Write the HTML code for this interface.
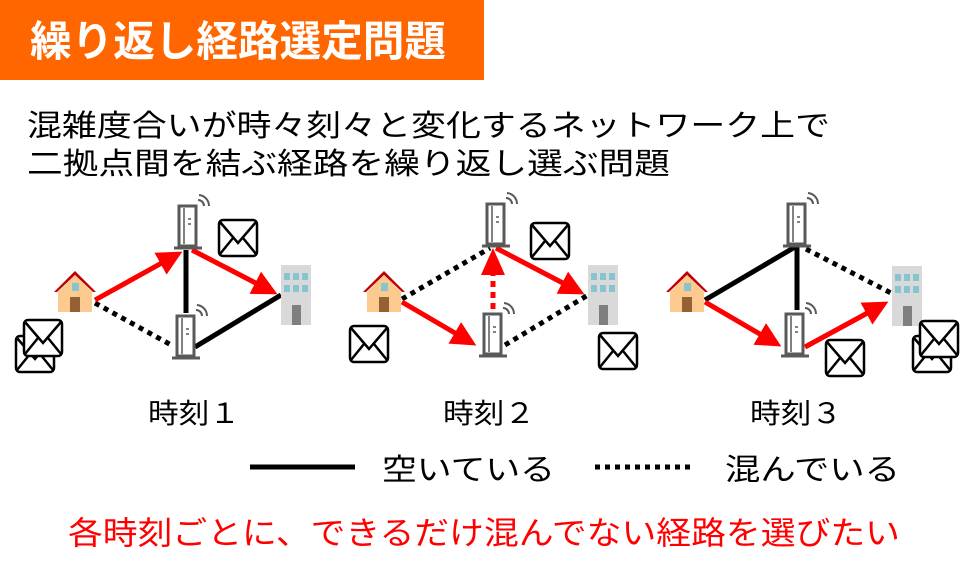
<!DOCTYPE html>
<html><head><meta charset="utf-8"><style>
html,body{margin:0;padding:0;background:#fff;}
svg{display:block;}
text{font-family:"Liberation Sans","Noto Sans CJK JP",sans-serif;}
</style></head><body>
<svg width="965" height="568" viewBox="0 0 965 568" xmlns="http://www.w3.org/2000/svg">
<defs>
  <marker id="ar" markerWidth="5" markerHeight="5" refX="4" refY="2.5" orient="auto" markerUnits="strokeWidth">
    <path d="M0,0 L5,2.5 L0,5 z" fill="#f00"/>
  </marker>
  <g id="house">
    <polygon points="0,22 21,1 42,22 39,22 21,5 3,22" fill="#c00000"/>
    <polygon points="4,22 21,5 38,22 38,42 4,42" fill="#fcc98f"/>
    <rect x="18" y="13" width="7" height="8" fill="#86c4d0"/>
    <rect x="16" y="27" width="10" height="15" fill="#946232"/>
  </g>
  <g id="bld">
    <rect x="0" y="0" width="30" height="60" fill="#d9d9d9"/>
    <rect x="3" y="8" width="6" height="7" fill="#86c4d0"/><rect x="12" y="8" width="6" height="7" fill="#86c4d0"/><rect x="21" y="8" width="6" height="7" fill="#86c4d0"/>
    <rect x="3" y="20" width="6" height="7" fill="#86c4d0"/><rect x="12" y="20" width="6" height="7" fill="#86c4d0"/><rect x="21" y="20" width="6" height="7" fill="#86c4d0"/>
    <rect x="11" y="40" width="9" height="20" fill="#7f7f7f"/>
  </g>
  <g id="rtr" fill="none" stroke="#595959">
    <rect x="5" y="2" width="17" height="40" stroke-width="3"/>
    <line x1="10" y1="4" x2="10" y2="40" stroke-width="1.5"/>
    <line x1="14" y1="15" x2="17" y2="15" stroke-width="1.5"/>
    <line x1="14" y1="20" x2="17" y2="20" stroke-width="1.5"/>
    <line x1="0" y1="44" x2="28" y2="44" stroke-width="3"/>
    <path d="M24,-4 A6,6 0 0 1 30,2" stroke-width="2"/>
    <path d="M25,-9 A11,11 0 0 1 35,2" stroke-width="2"/>
  </g>
  <g id="env" fill="#fff" stroke="#000" stroke-width="2.5">
    <rect x="1" y="1" width="38" height="36" rx="4"/>
    <path d="M2,3 L20,24 L38,3 M2,35 L15,19 M38,35 L25,19" fill="none"/>
  </g>
</defs>

<rect x="0" y="0" width="484" height="80" fill="#ff6600"/>
<text x="30" y="56" font-size="42" font-weight="bold" fill="#fff" textLength="416" lengthAdjust="spacingAndGlyphs">繰り返し経路選定問題</text>

<text x="27" y="136" font-size="30" fill="#000" textLength="803" lengthAdjust="spacingAndGlyphs">混雑度合いが時々刻々と変化するネットワーク上で</text>
<text x="27" y="174" font-size="30" fill="#000" textLength="643" lengthAdjust="spacingAndGlyphs">二拠点間を結ぶ経路を繰り返し選ぶ問題</text>

<!-- Panel 1 -->
<line x1="95" y1="303" x2="173" y2="346" stroke="#000" stroke-width="5" stroke-dasharray="5,5"/>
<line x1="186" y1="250" x2="186" y2="313" stroke="#000" stroke-width="5"/>
<line x1="195" y1="347" x2="281" y2="295" stroke="#000" stroke-width="5"/>
<line x1="95" y1="300" x2="178" y2="254" stroke="#f00" stroke-width="5" marker-end="url(#ar)"/>
<line x1="192" y1="250" x2="273" y2="292" stroke="#f00" stroke-width="5" marker-end="url(#ar)"/>
<use href="#house" x="54" y="270"/>
<use href="#bld" x="281" y="265"/>
<use href="#rtr" x="174" y="204"/>
<use href="#rtr" x="172" y="314"/>
<use href="#env" x="218" y="219"/>
<use href="#env" x="15" y="335"/>
<use href="#env" x="23" y="319"/>
<text x="148" y="423" font-size="28" textLength="92" lengthAdjust="spacingAndGlyphs">時刻１</text>

<!-- Panel 2 -->
<line x1="402" y1="299" x2="490" y2="248" stroke="#000" stroke-width="5" stroke-dasharray="5,5"/>
<line x1="505" y1="345" x2="588" y2="295" stroke="#000" stroke-width="5" stroke-dasharray="5,5"/>
<line x1="493" y1="309" x2="493" y2="262" stroke="#f00" stroke-width="5" stroke-dasharray="6,5"/>
<polygon points="493,248 481,275 505,275" fill="#f00"/>
<line x1="402" y1="302" x2="472" y2="343" stroke="#f00" stroke-width="5" marker-end="url(#ar)"/>
<line x1="496" y1="248" x2="580" y2="292" stroke="#f00" stroke-width="5" marker-end="url(#ar)"/>
<use href="#house" x="363" y="270"/>
<use href="#bld" x="588" y="265"/>
<use href="#rtr" x="482" y="202"/>
<use href="#rtr" x="479" y="312"/>
<use href="#env" x="530" y="222"/>
<use href="#env" x="349" y="325"/>
<use href="#env" x="598" y="332"/>
<text x="443" y="423" font-size="28" textLength="92" lengthAdjust="spacingAndGlyphs">時刻２</text>

<!-- Panel 3 -->
<line x1="705" y1="300" x2="795" y2="247" stroke="#000" stroke-width="5"/>
<line x1="797" y1="247" x2="797" y2="310" stroke="#000" stroke-width="5"/>
<line x1="806" y1="249" x2="891" y2="293" stroke="#000" stroke-width="5" stroke-dasharray="5,5"/>
<line x1="705" y1="302" x2="777" y2="344" stroke="#f00" stroke-width="5" marker-end="url(#ar)"/>
<line x1="805" y1="347" x2="884" y2="304" stroke="#f00" stroke-width="5" marker-end="url(#ar)"/>
<use href="#house" x="666" y="270"/>
<use href="#bld" x="892" y="266"/>
<use href="#rtr" x="783" y="202"/>
<use href="#rtr" x="781" y="312"/>
<use href="#env" x="825" y="339"/>
<use href="#env" x="912" y="335"/>
<use href="#env" x="919" y="320"/>
<text x="750" y="423" font-size="28" textLength="92" lengthAdjust="spacingAndGlyphs">時刻３</text>

<!-- Legend -->
<line x1="250" y1="467" x2="355" y2="467" stroke="#000" stroke-width="5"/>
<text x="382" y="480" font-size="30" textLength="173" lengthAdjust="spacingAndGlyphs">空いている</text>
<line x1="595" y1="467" x2="692" y2="467" stroke="#000" stroke-width="5" stroke-dasharray="5,5"/>
<text x="725" y="480" font-size="30" textLength="175" lengthAdjust="spacingAndGlyphs">混んでいる</text>

<text x="68" y="544" font-size="32" fill="#f00" textLength="832" lengthAdjust="spacingAndGlyphs">各時刻ごとに、できるだけ混んでない経路を選びたい</text>
</svg>
</body></html>
